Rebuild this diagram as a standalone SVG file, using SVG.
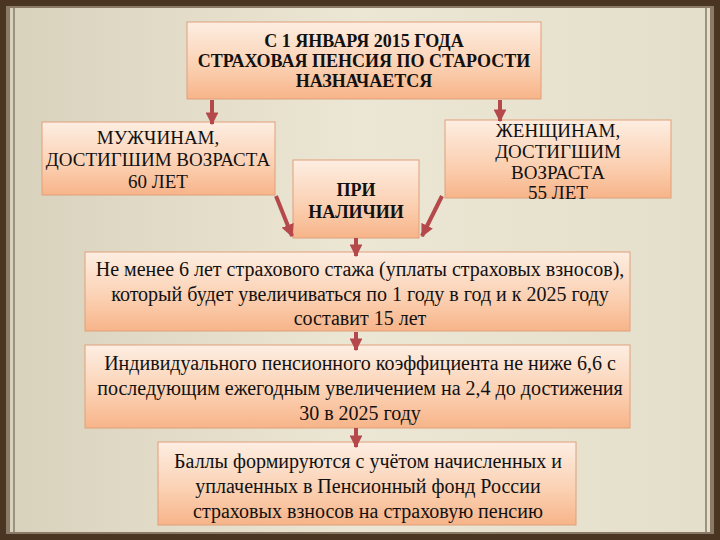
<svg xmlns="http://www.w3.org/2000/svg" width="720" height="540" viewBox="0 0 720 540">
<defs>
<linearGradient id="bg" x1="0" y1="0" x2="1" y2="0">
<stop offset="0" stop-color="#d8d2bd"/><stop offset="0.5" stop-color="#ece6d4"/><stop offset="1" stop-color="#e4dfcb"/>
</linearGradient>
<linearGradient id="box" x1="0" y1="0" x2="0" y2="1">
<stop offset="0" stop-color="#fdeee2"/><stop offset="0.6" stop-color="#fbcfb0"/><stop offset="1" stop-color="#f7b489"/>
</linearGradient>
<marker id="ah" viewBox="0 0 10 10" refX="9" refY="5" markerWidth="3.2" markerHeight="3.2" orient="auto">
<path d="M0,0 L10,5 L0,10 z" fill="#b5484b"/>
</marker>
<style>
.b{fill:url(#box);stroke:#e0a07a;stroke-width:1}
.t{font-size:19px;fill:#111;text-anchor:middle}
.h{font-weight:bold;font-size:18px}
.l{font-size:20px}
.s{font-size:21px}
.c{stroke:#b5484b;stroke-width:4;fill:none;marker-end:url(#ah)}
</style>
</defs>
<rect width="720" height="540" fill="#4a3422"/>
<rect x="6" y="6" width="708" height="528" fill="#8a7a66"/>
<rect x="10" y="8" width="700" height="524" fill="url(#bg)"/>
<line x1="14" y1="8" x2="14" y2="532" stroke="#9c9280" stroke-width="2"/>
<line x1="706" y1="8" x2="706" y2="532" stroke="#9c9280" stroke-width="2"/>
<g font-family="'Liberation Serif', 'Times New Roman', 'DejaVu Serif', serif">
<g id="top"><rect class="b" x="187" y="22" width="354" height="77"/>
<text class="t h" x="364" y="47">С 1 ЯНВАРЯ 2015 ГОДА</text>
<text class="t h" x="364" y="67">СТРАХОВАЯ ПЕНСИЯ ПО СТАРОСТИ</text>
<text class="t h" x="364" y="87">НАЗНАЧАЕТСЯ</text></g>
<g id="men"><rect class="b" x="42" y="122" width="233" height="73"/>
<text class="t" x="158" y="144">МУЖЧИНАМ,</text>
<text class="t" x="158" y="166">ДОСТИГШИМ ВОЗРАСТА</text>
<text class="t" x="158" y="188">60 ЛЕТ</text></g>
<g id="pri"><rect class="b" x="293" y="160" width="126" height="78"/>
<text class="t h" x="356" y="196">ПРИ</text>
<text class="t h" x="356" y="218">НАЛИЧИИ</text></g>
<g id="women"><rect class="b" x="445" y="120" width="226" height="78"/>
<text class="t" x="558" y="137">ЖЕНЩИНАМ,</text>
<text class="t" x="558" y="158">ДОСТИГШИМ</text>
<text class="t" x="558" y="179">ВОЗРАСТА</text>
<text class="t" x="558" y="199">55 ЛЕТ</text></g>
<g id="box1"><rect class="b" x="85" y="252" width="545" height="79"/>
<text class="t l" x="360" y="276">Не менее 6 лет страхового стажа (уплаты страховых взносов),</text>
<text class="t l" x="360" y="301">который будет увеличиваться по 1 году в год и к 2025 году</text>
<text class="t l" x="360" y="325">составит 15 лет</text></g>
<g id="box2"><rect class="b" x="85" y="345" width="545" height="83"/>
<text class="t l" x="360" y="370">Индивидуального пенсионного коэффициента не ниже 6,6 с</text>
<text class="t l" x="360" y="395">последующим ежегодным увеличением на 2,4 до достижения</text>
<text class="t l" x="360" y="420">30 в 2025 году</text></g>
<g id="box3"><rect class="b" x="158" y="442" width="418" height="83"/>
<text class="t l" x="368" y="468">Баллы формируются с учётом начисленных и</text>
<text class="t l" x="368" y="493">уплаченных в Пенсионный фонд России</text>
<text class="t l" x="368" y="518">страховых взносов на страховую пенсию</text></g>
</g>
<g id="connectors">
<line class="c" x1="212" y1="100" x2="212" y2="124"/>
<line class="c" x1="500" y1="100" x2="500" y2="121"/>
<line class="c" x1="276" y1="196" x2="292" y2="236"/>
<line class="c" x1="442" y1="196" x2="422" y2="236"/>
<line class="c" x1="356" y1="238" x2="356" y2="256"/>
<line class="c" x1="356" y1="332" x2="356" y2="350"/>
<line class="c" x1="356" y1="428" x2="356" y2="447"/>
</g>
</svg>
